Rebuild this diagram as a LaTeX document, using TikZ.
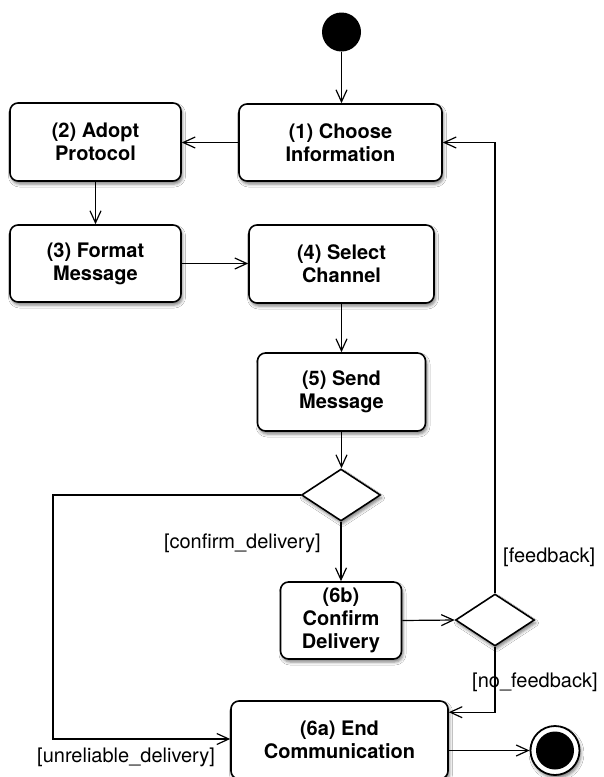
\documentclass[tikz,border=0pt]{standalone}
\usepackage{fontspec}
\setmainfont{TeX Gyre Heros}
\usetikzlibrary{arrows.meta,shapes.geometric,calc,shadows.blur}
\begin{document}
\begin{tikzpicture}[x=1pt,y=-1pt,
  shad/.style={blur shadow={shadow xshift=1.5pt, shadow yshift=-3pt, shadow blur radius=3pt, shadow opacity=50}},
  act/.style={draw, line width=1.6pt, rounded corners=8pt, fill=white, align=center,
    font=\bfseries\fontsize{20}{23}\selectfont, inner sep=0pt, shad},
  dec/.style={diamond, draw, line width=1.6pt, fill=white, minimum width=79pt, minimum height=52pt, inner sep=0pt, shad},
  startc/.style={circle, fill=black, minimum size=39pt, inner sep=0pt},
  endc/.style={circle, draw, fill=white, line width=1.8pt, minimum size=49pt, inner sep=0pt, shad,
    path picture={\fill[black] (path picture bounding box.center) circle (19pt);}},
  flow/.style={line width=1.2pt, -{Straight Barb[length=12pt,width=11pt,line width=1.2pt]}},
  lbl/.style={font=\fontsize{20}{23}\selectfont, inner sep=0pt}]
\useasboundingbox (0,0) rectangle (603,777);
\fill[white] (0,0) rectangle (603,777);

\node[startc] (start) at (341.5,32) {};
\node[act, minimum width=203pt, minimum height=77pt] (b1) at (340.5,142.5) {(1) Choose\\Information};
\node[act, minimum width=171pt, minimum height=78pt] (b2) at (95.5,142) {(2) Adopt\\Protocol};
\node[act, minimum width=171pt, minimum height=77pt] (b3) at (95.5,263.5) {(3) Format\\Message};
\node[act, minimum width=185pt, minimum height=78pt] (b4) at (341.5,264) {(4) Select\\Channel};
\node[act, minimum width=168pt, minimum height=78pt] (b5) at (341.5,392) {(5) Send\\Message};
\node[dec] (d1) at (341,495) {};
\node[act, minimum width=121pt, minimum height=77pt] (b6b) at (341,620.5) {(6b)\\Confirm\\Delivery};
\node[dec] (d2) at (495,620) {};
\node[act, minimum width=217pt, minimum height=78pt] (b6a) at (339.5,740) {(6a) End\\Communication};
\node[endc] (end) at (555,750.5) {};

\coordinate (c1) at (53,495);

\draw[flow] (start) -- (start |- b1.north);
\draw[flow] (b1.west) -- (b1.west -| b2.east);
\draw[flow] (b2) -- (b3);
\draw[flow] (b3.east) -- (b3.east -| b4.west);
\draw[flow] (b4) -- (b4 |- b5.north);
\draw[flow] (b5) -- (b5 |- d1.north);
\draw[flow] (d1) -- (d1 |- b6b.north);
\draw[flow] (b6b.east) -- (d2.west);
\draw[flow] (d2.north) |- (b1.east);
\draw[flow] (d2.south) |- ($(b6a.north east)+(0,12)$);
\draw[flow] (d1.west) -- (c1) |- ($(b6a.west)+(0,-1)$);
\draw[flow] (b6a.east |- end) -- (end);

\node[lbl, anchor=east] (lc) at (321,543) {[confirm\_delivery]};
\node[lbl, anchor=west] (lf) at (503,557) {[feedback]};
\node[lbl, anchor=west] (ln) at (472,682) {[no\_feedback]};
\node[lbl, anchor=west] (lu) at (37,757) {[unreliable\_delivery]};
\end{tikzpicture}
\end{document}
